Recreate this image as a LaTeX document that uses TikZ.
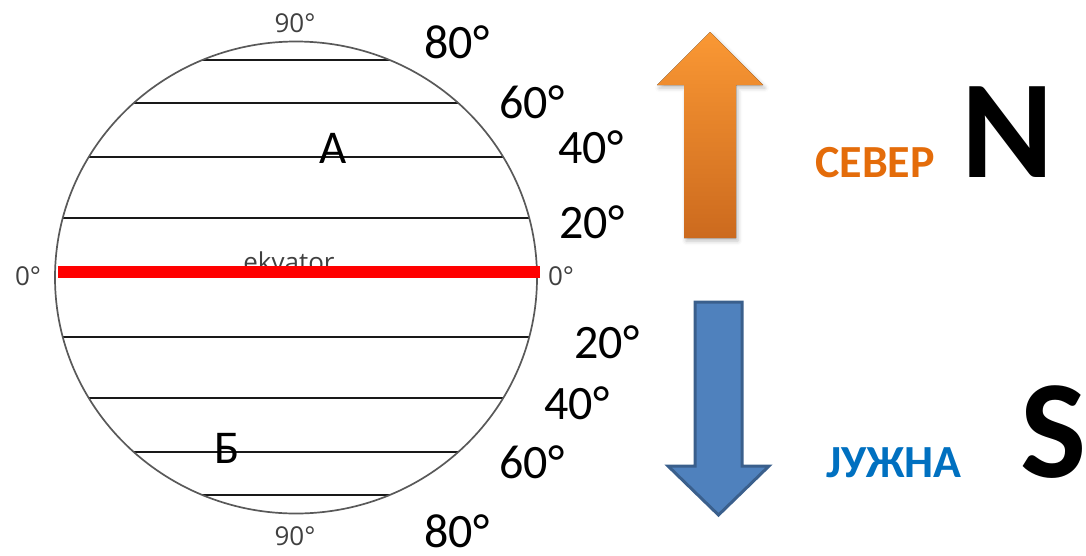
\documentclass[tikz,border=0pt]{standalone}
\usepackage{fontspec}
\newfontfamily\calfont{Carlito}
\newfontfamily\osfont{Open Sans}
\usetikzlibrary{shadows.blur}
\definecolor{orTop}{HTML}{FA9834}
\definecolor{orBot}{HTML}{CC6A1E}
\definecolor{sever}{HTML}{E46C0A}
\definecolor{juzna}{HTML}{0070C0}
\definecolor{blFill}{HTML}{4F81BD}
\definecolor{blLine}{HTML}{3A5F8C}
\definecolor{smallgray}{HTML}{404040}
\begin{document}
\begin{tikzpicture}[x=1pt,y=-1pt,
  deg/.style={anchor=base,inner sep=0pt,font=\calfont\fontsize{48}{48}\selectfont},
  small/.style={anchor=base,inner sep=0pt,text=smallgray,font=\osfont\fontsize{26}{26}\selectfont},
  letter/.style={anchor=base,inner sep=0pt,font=\calfont\fontsize{47}{47}\selectfont},
  dirword/.style={anchor=base,inner sep=0pt,font=\calfont\bfseries\fontsize{46}{46}\selectfont},
  big/.style={anchor=base,inner sep=0pt,font=\calfont\bfseries\fontsize{140}{140}\selectfont},
  chord/.style={draw=black!90,line width=2.8pt},
  globe/.style={draw=black!65,line width=1.7pt},
  equator/.style={draw=red,line width=12pt}
]
\useasboundingbox (0,0) rectangle (1086,555);
% globe
\coordinate (C) at (296,277.5);
\begin{scope}
  \clip (C) ellipse [x radius=241pt, y radius=236pt];
  \foreach \y in {60,103,157,218,337,398,452,495}
    \draw[chord] (40,\y) -- (560,\y);
\end{scope}
\draw[globe] (C) ellipse [x radius=241pt, y radius=236pt];
% small labels
\node[small] (ekv) at (289,271) {ekvator};
\coordinate (eqL) at (58,272);
\coordinate (eqR) at (540,272);
\draw[equator] (eqL) -- (eqR);
\node[small] (n90t) at (295,32) {90°};
\node[small] (n90b) at (295,545) {90°};
\node[small] (n0l) at (28,285) {0°};
\node[small] (n0r) at (561,285) {0°};
% letters
\node[letter] (A) at (333,163) {А};
\node[letter] (B) at (227,463) {Б};
% degree labels
\node[deg] (d80t) at (457,58) {80°};
\node[deg] (d60t) at (532,118) {60°};
\node[deg] (d40t) at (591,163) {40°};
\node[deg] (d20t) at (592,238) {20°};
\node[deg] (d20b) at (607,358) {20°};
\node[deg] (d40b) at (577,419) {40°};
\node[deg] (d60b) at (532,478) {60°};
\node[deg] (d80b) at (457,547) {80°};
% orange arrow
\fill[top color=orTop,bottom color=orBot,
  blur shadow={shadow xshift=2pt,shadow yshift=-3pt,shadow opacity=25,shadow blur radius=4pt}]
  (684,238) -- (684,85) -- (657,85) -- (710,32) -- (763,85) -- (736,85) -- (736,238) -- cycle;
% blue arrow
\filldraw[fill=blFill,draw=blLine,line width=3pt,line join=miter]
  (695,302) -- (742,302) -- (742,466) -- (769,466) -- (718.5,515) -- (668,466) -- (695,466) -- cycle;
% words
\node[dirword,text=sever] (sev) at (875,177) {СЕВЕР};
\node[dirword,text=juzna] (juz) at (894,477) {ЈУЖНА};
\node[big] (N) at (1008,177) {N};
\node[big] (S) at (1054,477) {S};
\end{tikzpicture}
\end{document}
